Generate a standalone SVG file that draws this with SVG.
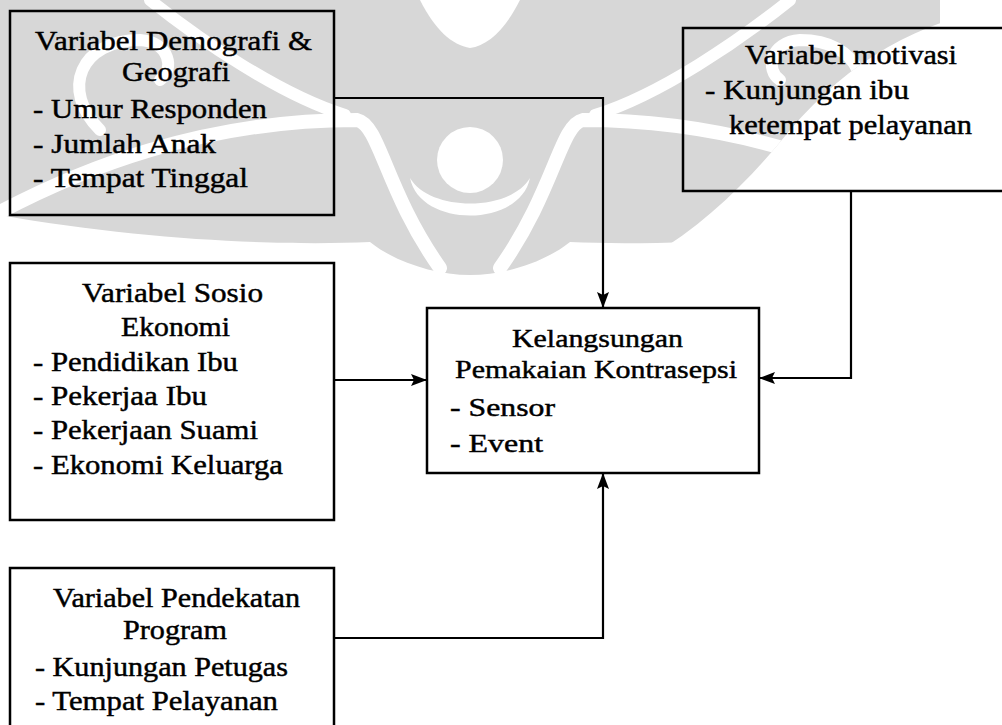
<svg xmlns="http://www.w3.org/2000/svg" xmlns:xlink="http://www.w3.org/1999/xlink" width="1002" height="725" viewBox="0 0 1002 725">
<style>
.t{font-family:'Liberation Serif',Tinos,'Times New Roman',Times,serif;font-size:27px;fill:#000;stroke:#000;stroke-width:0.45}
.c{font-size:26px}
.box{fill:none;stroke:#000;stroke-width:2.5}
.wire{fill:none;stroke:#000;stroke-width:2.2}
.wm{fill:#d7d7d7}
.wf{fill:#fff}
.wb{fill:none;stroke:#fff;stroke-linecap:round}
</style>
<defs>
<marker id="ah" viewBox="0 0 16 12" refX="15" refY="6" markerWidth="16" markerHeight="12" markerUnits="userSpaceOnUse" orient="auto">
<path d="M0,0 L16,6 L0,12 L3,6 Z" fill="#000"/>
</marker>
<clipPath id="clipL"><rect x="0" y="0" width="471" height="400"/></clipPath>
<clipPath id="clipR"><path d="M469,0 H1002 V8 C920,20 850,60 790,130 C750,180 700,230 640,262 L469,300 Z"/></clipPath>
<g id="wmhalf">
<path class="wm" d="M0,0 H470 V275 C435,275 395,262 370,242 C280,246 140,240 0,215 Z"/>
<path class="wf" d="M420,0 C435,30 452,45 470,48 V0 Z"/>
<path class="wb" stroke-width="14" d="M0,212 C80,170 200,120 357,120 C380,125 385,190 440,268"/>
<path class="wb" stroke-width="12" d="M150,0 C200,40 280,95 345,115"/>
<path class="wb" stroke-width="12" d="M100,130 C60,90 80,40 140,40 C170,42 175,70 160,80"/>
</g>
</defs>
<rect width="1002" height="725" fill="#fff"/>
<g id="watermark">
<g clip-path="url(#clipL)"><use xlink:href="#wmhalf"/></g>
<g clip-path="url(#clipR)"><use xlink:href="#wmhalf" transform="translate(940,0) scale(-1,1)"/></g>
<circle class="wf" cx="470" cy="160" r="33"/>
<path class="wf" d="M410,178 C420,228 520,228 530,178 C510,212 430,212 410,178 Z"/>
</g>
<g id="connectors">
<path class="wire" d="M334,98 H603 V307" marker-end="url(#ah)"/>
<path class="wire" d="M851,191 V378 H760" marker-end="url(#ah)"/>
<path class="wire" d="M334,380 H426" marker-end="url(#ah)"/>
<path class="wire" d="M334,638 H603 V474" marker-end="url(#ah)"/>
</g>
<g font-family="Liberation Serif, serif">
<g id="node-demografi">
<rect class="box" x="10" y="11" width="324" height="204"/>
<text class="t" x="35" y="50" textLength="277" lengthAdjust="spacingAndGlyphs">Variabel Demografi &amp;</text>
<text class="t" x="122" y="81" textLength="108" lengthAdjust="spacingAndGlyphs">Geografi</text>
<text class="t" x="33" y="118" textLength="234" lengthAdjust="spacingAndGlyphs">- Umur Responden</text>
<text class="t" x="33" y="153" textLength="183" lengthAdjust="spacingAndGlyphs">- Jumlah Anak</text>
<text class="t" x="33" y="187" textLength="215" lengthAdjust="spacingAndGlyphs">- Tempat Tinggal</text>
</g>
<g id="node-motivasi">
<path class="box" d="M1010,28 H683 V191 H1010"/>
<text class="t" x="745" y="64" textLength="212" lengthAdjust="spacingAndGlyphs">Variabel motivasi</text>
<text class="t" x="705" y="99" textLength="204" lengthAdjust="spacingAndGlyphs">- Kunjungan ibu</text>
<text class="t" x="729" y="134" textLength="243" lengthAdjust="spacingAndGlyphs">ketempat pelayanan</text>
</g>
<g id="node-sosio">
<rect class="box" x="10" y="263" width="324" height="257"/>
<text class="t" x="82" y="302" textLength="181" lengthAdjust="spacingAndGlyphs">Variabel Sosio</text>
<text class="t" x="121" y="336" textLength="109" lengthAdjust="spacingAndGlyphs">Ekonomi</text>
<text class="t" x="33" y="371" textLength="205" lengthAdjust="spacingAndGlyphs">- Pendidikan Ibu</text>
<text class="t" x="33" y="405" textLength="174" lengthAdjust="spacingAndGlyphs">- Pekerjaa Ibu</text>
<text class="t" x="33" y="439" textLength="225" lengthAdjust="spacingAndGlyphs">- Pekerjaan Suami</text>
<text class="t" x="33" y="474" textLength="250" lengthAdjust="spacingAndGlyphs">- Ekonomi Keluarga</text>
</g>
<g id="node-pendekatan">
<rect class="box" x="10" y="568" width="324" height="170"/>
<text class="t" x="53" y="607" textLength="247" lengthAdjust="spacingAndGlyphs">Variabel Pendekatan</text>
<text class="t" x="123" y="639" textLength="104" lengthAdjust="spacingAndGlyphs">Program</text>
<text class="t" x="35" y="676" textLength="253" lengthAdjust="spacingAndGlyphs">- Kunjungan Petugas</text>
<text class="t" x="35" y="710" textLength="243" lengthAdjust="spacingAndGlyphs">- Tempat Pelayanan</text>
</g>
<g id="node-kelangsungan">
<rect class="box" x="427" y="308" width="332" height="165"/>
<text class="t c" x="512" y="347" textLength="171" lengthAdjust="spacingAndGlyphs">Kelangsungan</text>
<text class="t c" x="455" y="378" textLength="282" lengthAdjust="spacingAndGlyphs">Pemakaian Kontrasepsi</text>
<text class="t c" x="450" y="416" textLength="105" lengthAdjust="spacingAndGlyphs">- Sensor</text>
<text class="t c" x="450" y="452" textLength="93" lengthAdjust="spacingAndGlyphs">- Event</text>
</g>
</g>
</svg>
